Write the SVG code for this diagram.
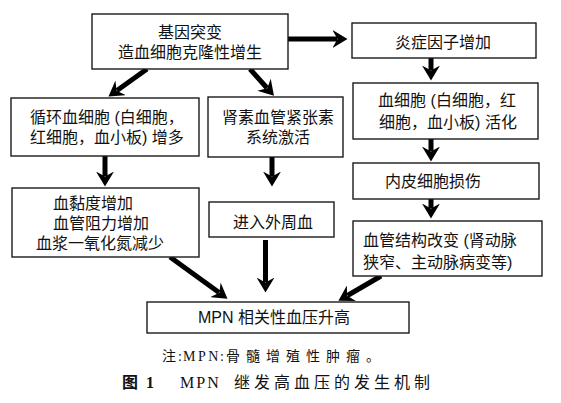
<svg xmlns="http://www.w3.org/2000/svg" width="561" height="403" viewBox="0 0 561 403">
<style>
  .box { fill: #fff; stroke: #1a1a1a; stroke-width: 1.4; }
  .t { font-family: "Liberation Sans", "Noto Sans CJK SC", sans-serif; font-size: 16px; fill: #111; }
  .m { text-anchor: middle; }
  .conn { stroke: #000; stroke-width: 5; fill: none; marker-end: url(#ah); }
  .note { font-family: "Liberation Serif", "Noto Sans CJK SC", serif; fill: #111; }
</style>
<defs>
  <marker id="ah" markerUnits="userSpaceOnUse" markerWidth="15" markerHeight="18" viewBox="0 0 15 18" refX="4.5" refY="9" orient="auto">
    <path d="M0,0 L15,9 L0,18 L5,9 Z" fill="#000"/>
  </marker>
</defs>
<rect width="561" height="403" fill="#fff"/>

<g id="connectors">
  <line class="conn" x1="147" y1="69" x2="117" y2="90.5"/>
  <line class="conn" x1="250" y1="69" x2="267" y2="88"/>
  <line class="conn" x1="288" y1="39" x2="337" y2="39"/>
  <line class="conn" x1="105" y1="156" x2="105" y2="176"/>
  <line class="conn" x1="272" y1="157" x2="272" y2="176"/>
  <line class="conn" x1="265.5" y1="240" x2="265.5" y2="282"/>
  <line class="conn" x1="170" y1="257" x2="219" y2="292.5"/>
  <line class="conn" x1="431" y1="58" x2="431" y2="70"/>
  <line class="conn" x1="431" y1="139" x2="431" y2="151"/>
  <line class="conn" x1="431" y1="199" x2="431" y2="208"/>
  <line class="conn" x1="381" y1="276" x2="347.5" y2="295.5"/>
</g>

<g id="n-gene">
  <rect class="box" x="92" y="14" width="196" height="55"/>
  <text class="t m" x="190" y="38">基因突变</text>
  <text class="t m" x="190" y="58">造血细胞克隆性增生</text>
</g>

<g id="n-cells">
  <rect class="box" x="11" y="98" width="188" height="58"/>
  <text class="t" x="30" y="123">循环血细胞 (白细胞，</text>
  <text class="t" x="30" y="143">红细胞，血小板) 增多</text>
</g>

<g id="n-ras">
  <rect class="box" x="208" y="97" width="135" height="60"/>
  <text class="t m" x="278" y="123">肾素血管紧张素</text>
  <text class="t m" x="278" y="143">系统激活</text>
</g>

<g id="n-visc">
  <rect class="box" x="12" y="188" width="187" height="69"/>
  <text class="t" x="53" y="209">血黏度增加</text>
  <text class="t" x="53" y="229">血管阻力增加</text>
  <text class="t" x="36" y="249">血浆一氧化氮减少</text>
</g>

<g id="n-periph">
  <rect class="box" x="209" y="202" width="125" height="35"/>
  <text class="t" x="233" y="228">进入外周血</text>
</g>

<g id="n-inflam">
  <rect class="box" x="352" y="23" width="184" height="35"/>
  <text class="t m" x="443" y="48">炎症因子增加</text>
</g>

<g id="n-activ">
  <rect class="box" x="353" y="83" width="185" height="56"/>
  <text class="t m" x="447" y="106">血细胞 (白细胞，红</text>
  <text class="t m" x="448" y="128">细胞，血小板) 活化</text>
</g>

<g id="n-endo">
  <rect class="box" x="353" y="163" width="186" height="36"/>
  <text class="t" x="385" y="187">内皮细胞损伤</text>
</g>

<g id="n-vessel">
  <rect class="box" x="353" y="221" width="189" height="55"/>
  <text class="t" x="363" y="246">血管结构改变 (肾动脉</text>
  <text class="t" x="363" y="268">狭窄、主动脉病变等)</text>
</g>

<g id="n-mpn">
  <rect class="box" x="147" y="302" width="262" height="31"/>
  <text class="t" x="198" y="323">MPN 相关性血压升高</text>
</g>

<g id="notes">
  <text class="note" font-size="14" y="361"><tspan x="162">注</tspan><tspan x="178">:</tspan><tspan x="183" letter-spacing="2.5">MPN</tspan><tspan x="220">:</tspan><tspan x="226" letter-spacing="6">骨髓增殖性肿瘤。</tspan></text>
  <text class="note" font-size="16" y="388"><tspan x="122" font-weight="bold">图</tspan><tspan x="146" font-weight="bold">1</tspan><tspan x="180" letter-spacing="2">MPN</tspan><tspan x="234" letter-spacing="4">继发高血压的发生机制</tspan></text>
</g>
</svg>
